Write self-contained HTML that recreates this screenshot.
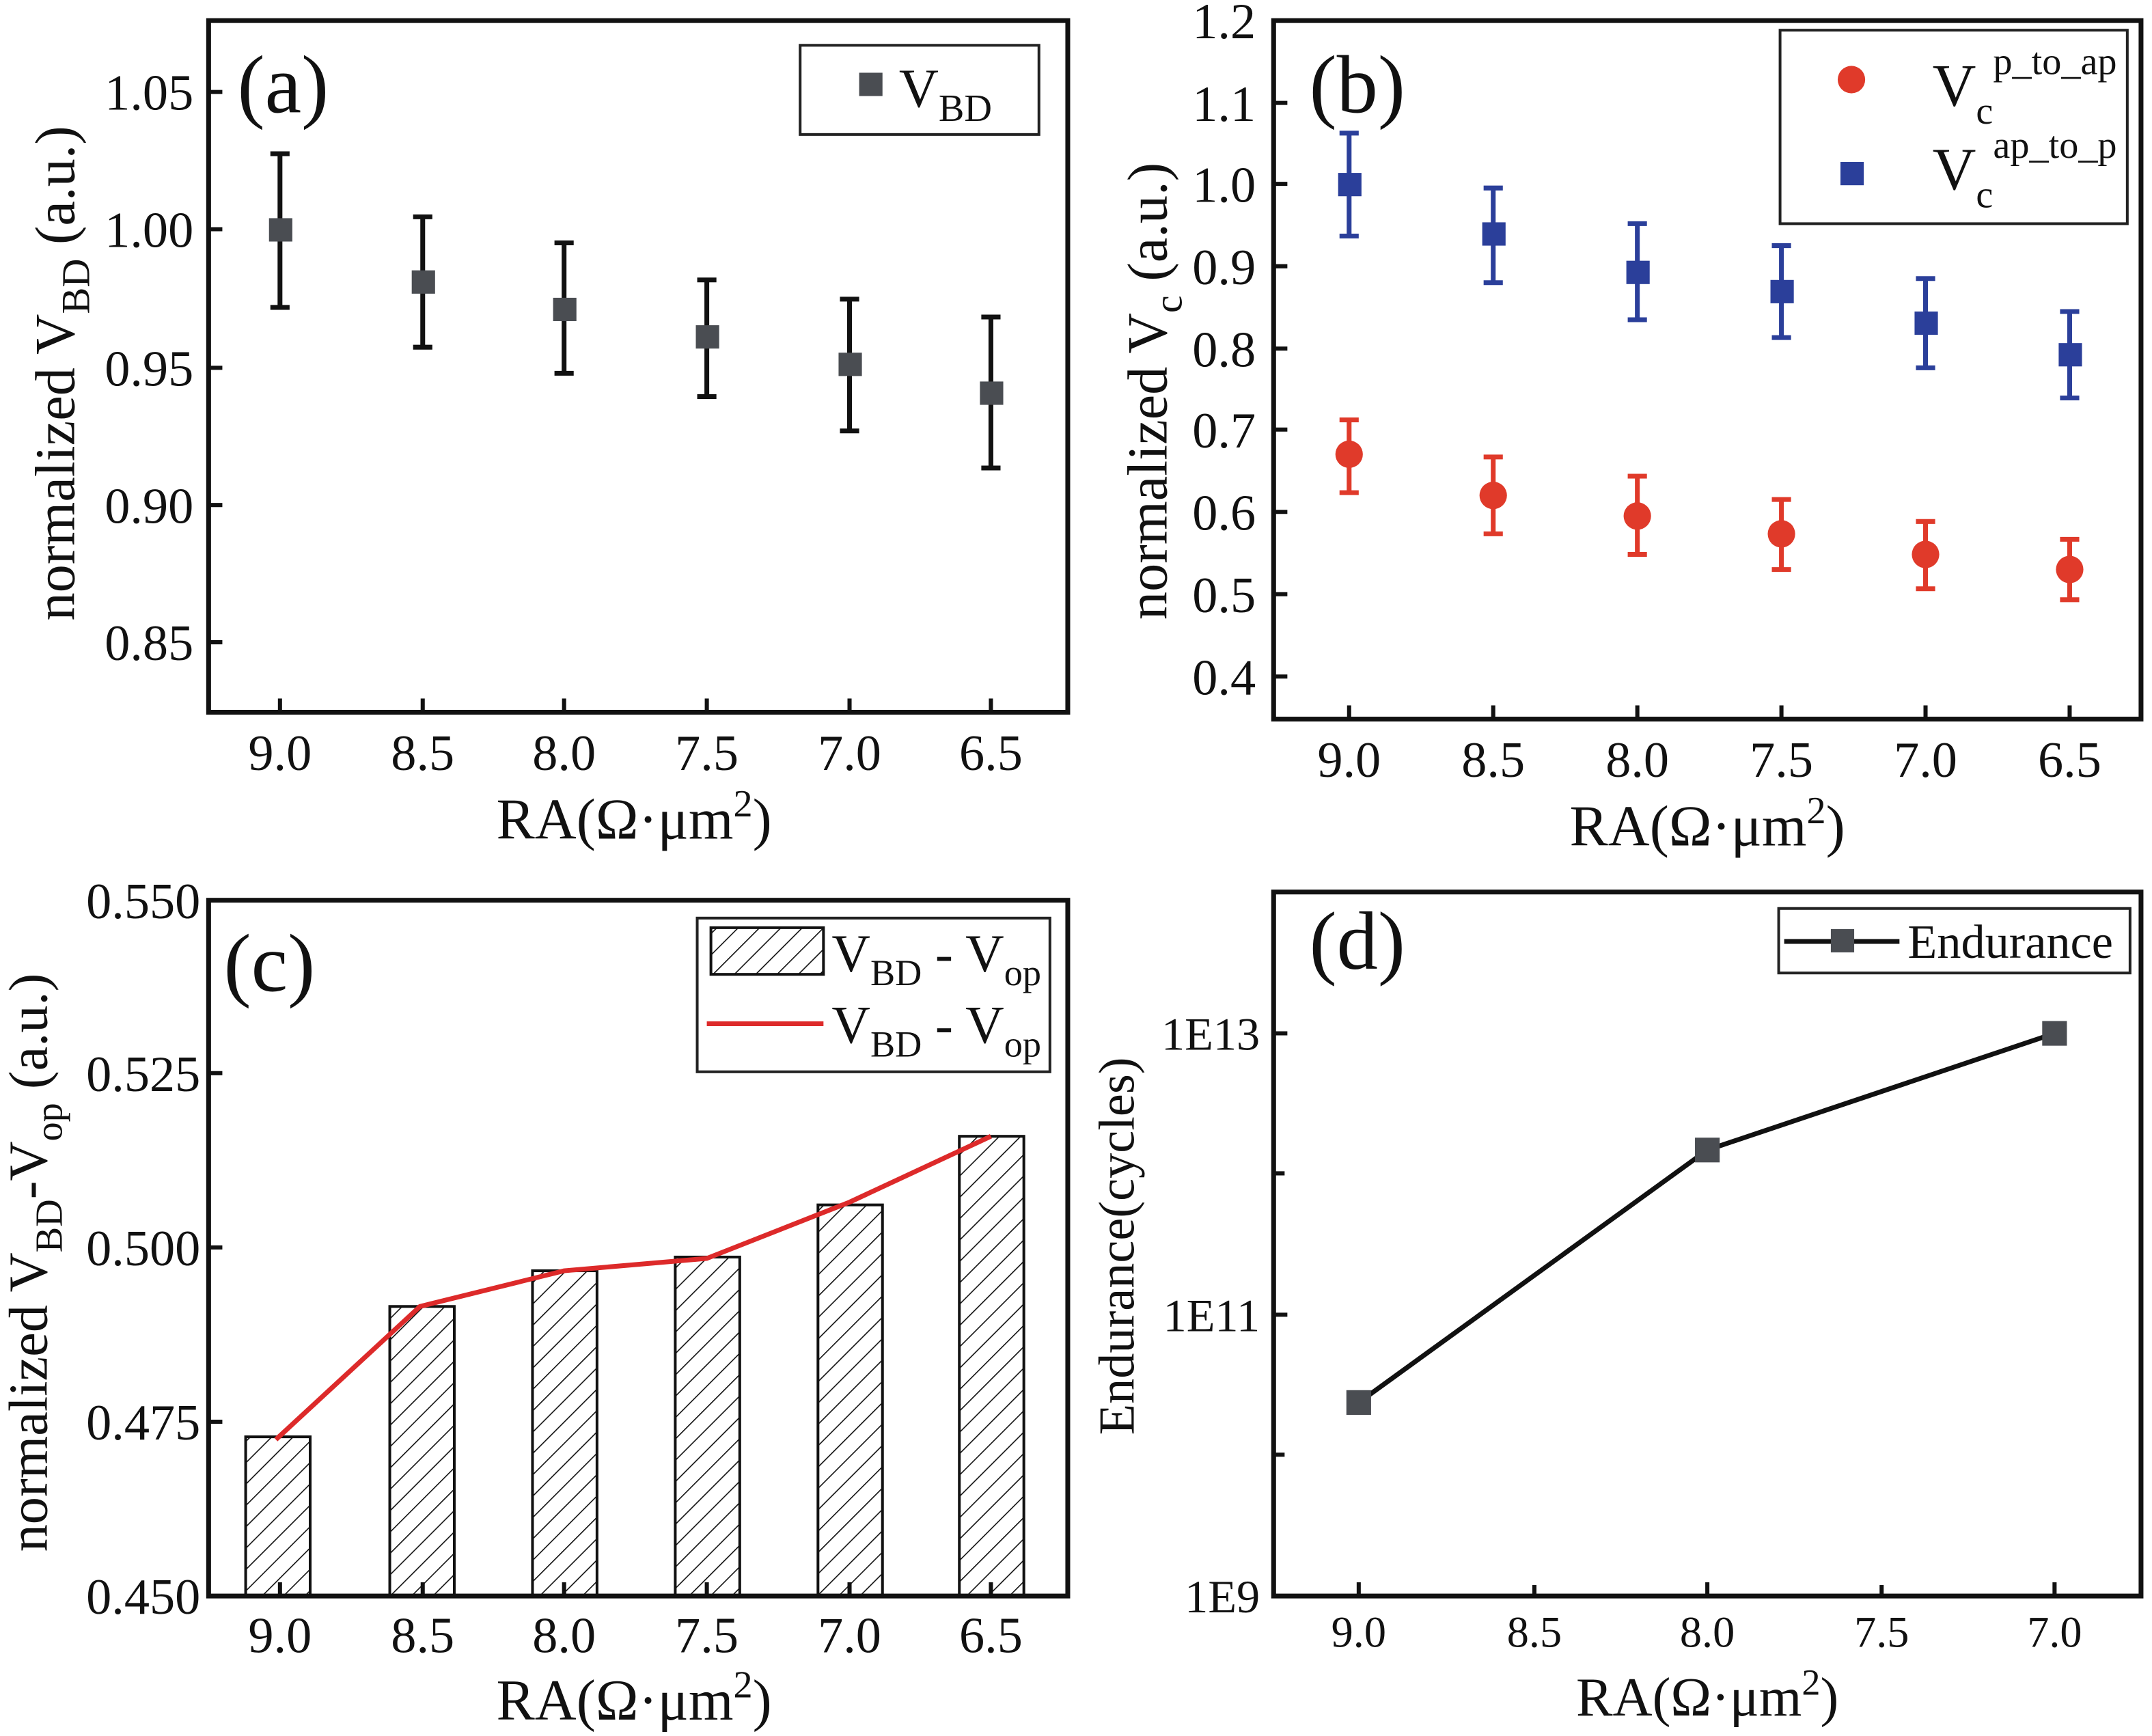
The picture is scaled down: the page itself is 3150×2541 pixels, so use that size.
<!DOCTYPE html>
<html><head><meta charset="utf-8"><style>
html,body{margin:0;padding:0;background:#fff;}
svg{display:block;}
text{font-family:"Liberation Serif",serif;fill:#111;}
</style></head><body>
<svg width="3150" height="2541" viewBox="0 0 1568 1265" preserveAspectRatio="none" xmlns="http://www.w3.org/2000/svg">
<defs>
<pattern id="hatch" patternUnits="userSpaceOnUse" width="11" height="11" patternTransform="rotate(45)">
<line x1="0" y1="0" x2="0" y2="11" stroke="#111" stroke-width="1.6"/>
</pattern>
</defs>
<rect width="1568" height="1265" fill="#fff"/>

<!-- ===== Panel (a) ===== -->
<g>
<rect x="152" y="15" width="626" height="504" fill="none" stroke="#111" stroke-width="3.5"/>
<g stroke="#111" stroke-width="3">
<line x1="152" y1="67" x2="162" y2="67"/><line x1="152" y1="167" x2="162" y2="167"/><line x1="152" y1="268" x2="162" y2="268"/><line x1="152" y1="368" x2="162" y2="368"/><line x1="152" y1="468" x2="162" y2="468"/>
<line x1="204" y1="519" x2="204" y2="509"/><line x1="308" y1="519" x2="308" y2="509"/><line x1="411" y1="519" x2="411" y2="509"/><line x1="515" y1="519" x2="515" y2="509"/><line x1="619" y1="519" x2="619" y2="509"/><line x1="722" y1="519" x2="722" y2="509"/>
</g>
<g font-size="37" text-anchor="end">
<text x="141" y="80">1.05</text><text x="141" y="180">1.00</text><text x="141" y="281">0.95</text><text x="141" y="381">0.90</text><text x="141" y="481">0.85</text>
</g>
<g font-size="37" text-anchor="middle">
<text x="204" y="561">9.0</text><text x="308" y="561">8.5</text><text x="411" y="561">8.0</text><text x="515" y="561">7.5</text><text x="619" y="561">7.0</text><text x="722" y="561">6.5</text>
</g>
<text x="462" y="611" font-size="42" text-anchor="middle">RA(Ω·μm<tspan dy="-16" font-size="28">2</tspan><tspan dy="16">)</tspan></text>
<text transform="translate(54,272) rotate(-90)" font-size="41" text-anchor="middle">normalized V<tspan dy="11" font-size="29">BD</tspan><tspan dy="-11"> (a.u.)</tspan></text>
<text x="173" y="82" font-size="60">(a)</text>
<g stroke="#111" stroke-width="3.5" fill="none">
<path d="M204 112V224M197 112H211M197 224H211"/>
<path d="M308 158V253M301 158H315M301 253H315"/>
<path d="M411 177V272M404 177H418M404 272H418"/>
<path d="M515 204V289M508 204H522M508 289H522"/>
<path d="M619 218V314M612 218H626M612 314H626"/>
<path d="M722 231V341M715 231H729M715 341H729"/>
</g>
<g fill="#4a4d52">
<rect x="196" y="159" width="17" height="17"/><rect x="300" y="197" width="17" height="17"/><rect x="403" y="217" width="17" height="17"/><rect x="507" y="237" width="17" height="17"/><rect x="611" y="257" width="17" height="17"/><rect x="714" y="278" width="17" height="17"/>
</g>
<rect x="583" y="33" width="174" height="65" fill="#fff" stroke="#222" stroke-width="2"/>
<rect x="626" y="53" width="17" height="17" fill="#4a4d52"/>
<text x="655" y="78" font-size="40">V<tspan dy="10" font-size="28">BD</tspan></text>
</g>

<!-- ===== Panel (b) ===== -->
<g>
<rect x="928" y="15" width="632" height="509" fill="none" stroke="#111" stroke-width="3.5"/>
<g stroke="#111" stroke-width="3">
<line x1="928" y1="75" x2="938" y2="75"/><line x1="928" y1="134" x2="938" y2="134"/><line x1="928" y1="194" x2="938" y2="194"/><line x1="928" y1="254" x2="938" y2="254"/><line x1="928" y1="313" x2="938" y2="313"/><line x1="928" y1="373" x2="938" y2="373"/><line x1="928" y1="433" x2="938" y2="433"/><line x1="928" y1="493" x2="938" y2="493"/>
<line x1="983" y1="524" x2="983" y2="514"/><line x1="1088" y1="524" x2="1088" y2="514"/><line x1="1193" y1="524" x2="1193" y2="514"/><line x1="1298" y1="524" x2="1298" y2="514"/><line x1="1403" y1="524" x2="1403" y2="514"/><line x1="1508" y1="524" x2="1508" y2="514"/>
</g>
<g font-size="37" text-anchor="end">
<text x="915" y="28">1.2</text><text x="915" y="88">1.1</text><text x="915" y="147">1.0</text><text x="915" y="207">0.9</text><text x="915" y="267">0.8</text><text x="915" y="326">0.7</text><text x="915" y="386">0.6</text><text x="915" y="446">0.5</text><text x="915" y="506">0.4</text>
</g>
<g font-size="37" text-anchor="middle">
<text x="983" y="566">9.0</text><text x="1088" y="566">8.5</text><text x="1193" y="566">8.0</text><text x="1298" y="566">7.5</text><text x="1403" y="566">7.0</text><text x="1508" y="566">6.5</text>
</g>
<text x="1244" y="616" font-size="42" text-anchor="middle">RA(Ω·μm<tspan dy="-16" font-size="28">2</tspan><tspan dy="16">)</tspan></text>
<text transform="translate(850,285) rotate(-90)" font-size="41" text-anchor="middle">normalized V<tspan dy="11" font-size="29">c</tspan><tspan dy="-11"> (a.u.)</tspan></text>
<text x="954" y="82" font-size="60">(b)</text>
<g stroke="#2b3f9a" stroke-width="3.5" fill="none">
<path d="M983 97V172M976 97H990M976 172H990"/>
<path d="M1088 137V206M1081 137H1095M1081 206H1095"/>
<path d="M1193 163V233M1186 163H1200M1186 233H1200"/>
<path d="M1298 179V246M1291 179H1305M1291 246H1305"/>
<path d="M1403 203V268M1396 203H1410M1396 268H1410"/>
<path d="M1508 227V290M1501 227H1515M1501 290H1515"/>
</g>
<g fill="#2b3f9a">
<rect x="975" y="126" width="17" height="17"/><rect x="1080" y="162" width="17" height="17"/><rect x="1185" y="190" width="17" height="17"/><rect x="1290" y="204" width="17" height="17"/><rect x="1395" y="227" width="17" height="17"/><rect x="1500" y="250" width="17" height="17"/>
</g>
<g stroke="#e03a2a" stroke-width="3.5" fill="none">
<path d="M983 306V359M976 306H990M976 359H990"/>
<path d="M1088 333V389M1081 333H1095M1081 389H1095"/>
<path d="M1193 347V404M1186 347H1200M1186 404H1200"/>
<path d="M1298 364V415M1291 364H1305M1291 415H1305"/>
<path d="M1403 380V429M1396 380H1410M1396 429H1410"/>
<path d="M1508 393V437M1501 393H1515M1501 437H1515"/>
</g>
<g fill="#e03a2a">
<circle cx="983" cy="331" r="10"/><circle cx="1088" cy="361" r="10"/><circle cx="1193" cy="376" r="10"/><circle cx="1298" cy="389" r="10"/><circle cx="1403" cy="404" r="10"/><circle cx="1508" cy="415" r="10"/>
</g>
<rect x="1297" y="22" width="253" height="141" fill="#fff" stroke="#222" stroke-width="2"/>
<circle cx="1349" cy="58" r="10" fill="#e03a2a"/>
<rect x="1341" y="118" width="17" height="17" fill="#2b3f9a"/>
<text x="1408" y="77" font-size="44">V<tspan dy="13" font-size="28">c</tspan><tspan dy="-36" font-size="28">p_to_ap</tspan></text>
<text x="1408" y="138" font-size="44">V<tspan dy="13" font-size="28">c</tspan><tspan dy="-36" font-size="28">ap_to_p</tspan></text>
</g>

<!-- ===== Panel (c) ===== -->
<g>
<g stroke="#111" stroke-width="2">
<rect x="179" y="1047" width="47" height="116" fill="url(#hatch)"/>
<rect x="284" y="952" width="47" height="211" fill="url(#hatch)"/>
<rect x="388" y="926" width="47" height="237" fill="url(#hatch)"/>
<rect x="492" y="916" width="47" height="247" fill="url(#hatch)"/>
<rect x="596" y="878" width="47" height="285" fill="url(#hatch)"/>
<rect x="699" y="828" width="47" height="335" fill="url(#hatch)"/>
</g>
<polyline points="201,1049 306,952 411,926 515,917 619,876 722,828" fill="none" stroke="#dd2a2a" stroke-width="3.5"/>
<rect x="152" y="656" width="626" height="507" fill="none" stroke="#111" stroke-width="3.5"/>
<g stroke="#111" stroke-width="3">
<line x1="152" y1="782" x2="162" y2="782"/><line x1="152" y1="909" x2="162" y2="909"/><line x1="152" y1="1036" x2="162" y2="1036"/>
<line x1="204" y1="1163" x2="204" y2="1153"/><line x1="308" y1="1163" x2="308" y2="1153"/><line x1="411" y1="1163" x2="411" y2="1153"/><line x1="515" y1="1163" x2="515" y2="1153"/><line x1="619" y1="1163" x2="619" y2="1153"/><line x1="722" y1="1163" x2="722" y2="1153"/>
</g>
<g font-size="37" text-anchor="end">
<text x="146" y="669">0.550</text><text x="146" y="795">0.525</text><text x="146" y="922">0.500</text><text x="146" y="1049">0.475</text><text x="146" y="1176">0.450</text>
</g>
<g font-size="37" text-anchor="middle">
<text x="204" y="1204">9.0</text><text x="308" y="1204">8.5</text><text x="411" y="1204">8.0</text><text x="515" y="1204">7.5</text><text x="619" y="1204">7.0</text><text x="722" y="1204">6.5</text>
</g>
<text x="462" y="1253" font-size="42" text-anchor="middle">RA(Ω·μm<tspan dy="-16" font-size="28">2</tspan><tspan dy="16">)</tspan></text>
<text transform="translate(34,920) rotate(-90)" font-size="40" text-anchor="middle">normalized V<tspan dy="11" font-size="28">BD</tspan><tspan dy="-11">-V</tspan><tspan dy="11" font-size="28">op</tspan><tspan dy="-11"> (a.u.)</tspan></text>
<text x="163" y="722" font-size="60">(c)</text>
<rect x="508" y="669" width="257" height="112" fill="#fff" stroke="#222" stroke-width="2"/>
<rect x="518" y="676" width="82" height="34" fill="url(#hatch)" stroke="#111" stroke-width="2"/>
<line x1="515" y1="746" x2="600" y2="746" stroke="#dd2a2a" stroke-width="3.5"/>
<text x="606" y="708" font-size="39">V<tspan dy="10" font-size="27">BD</tspan><tspan dy="-10"> - V</tspan><tspan dy="10" font-size="27">op</tspan></text>
<text x="606" y="760" font-size="39">V<tspan dy="10" font-size="27">BD</tspan><tspan dy="-10"> - V</tspan><tspan dy="10" font-size="27">op</tspan></text>
</g>

<!-- ===== Panel (d) ===== -->
<g>
<rect x="928" y="650" width="632" height="513" fill="none" stroke="#111" stroke-width="3.5"/>
<g stroke="#111" stroke-width="3">
<line x1="928" y1="753" x2="938" y2="753"/><line x1="928" y1="855" x2="936" y2="855"/><line x1="928" y1="958" x2="938" y2="958"/><line x1="928" y1="1060" x2="936" y2="1060"/>
<line x1="990" y1="1163" x2="990" y2="1153"/><line x1="1118" y1="1163" x2="1118" y2="1155"/><line x1="1244" y1="1163" x2="1244" y2="1153"/><line x1="1371" y1="1163" x2="1371" y2="1155"/><line x1="1497" y1="1163" x2="1497" y2="1153"/>
</g>
<g font-size="34" text-anchor="end">
<text x="918" y="765">1E13</text><text x="918" y="970">1E11</text><text x="918" y="1175">1E9</text>
</g>
<g font-size="32" text-anchor="middle">
<text x="990" y="1200">9.0</text><text x="1118" y="1200">8.5</text><text x="1244" y="1200">8.0</text><text x="1371" y="1200">7.5</text><text x="1497" y="1200">7.0</text>
</g>
<text x="1244" y="1250" font-size="40" text-anchor="middle">RA(Ω·μm<tspan dy="-15" font-size="27">2</tspan><tspan dy="15">)</tspan></text>
<text transform="translate(826,908) rotate(-90)" font-size="37" text-anchor="middle">Endurance(cycles)</text>
<text x="954" y="706" font-size="60">(d)</text>
<polyline points="990,1022 1244,838 1497,753" fill="none" stroke="#111" stroke-width="3.5"/>
<g fill="#4a4d52">
<rect x="981" y="1013" width="18" height="18"/><rect x="1235" y="829" width="18" height="18"/><rect x="1488" y="744" width="18" height="18"/>
</g>
<rect x="1296" y="662" width="256" height="47" fill="#fff" stroke="#222" stroke-width="2"/>
<line x1="1300" y1="686" x2="1384" y2="686" stroke="#111" stroke-width="3.5"/>
<rect x="1334" y="677" width="17" height="17" fill="#4a4d52"/>
<text x="1390" y="698" font-size="35">Endurance</text>
</g>
</svg>
</body></html>
